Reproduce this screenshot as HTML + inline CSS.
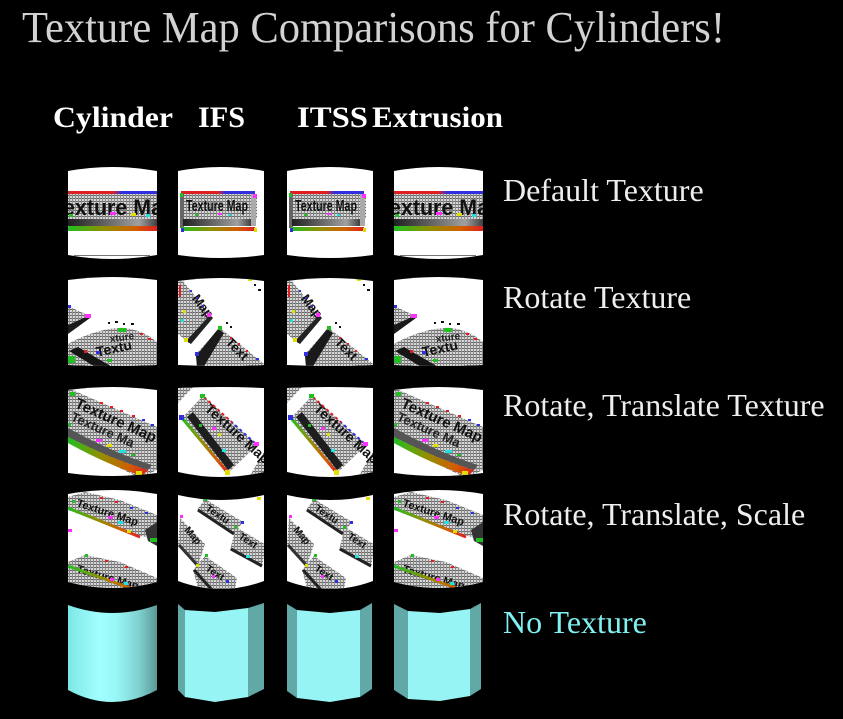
<!DOCTYPE html>
<html><head><meta charset="utf-8"><style>
html,body{margin:0;padding:0;background:#000;}
svg{display:block;}
</style></head><body>
<svg width="843" height="719" viewBox="0 0 843 719" xmlns="http://www.w3.org/2000/svg" xmlns:xlink="http://www.w3.org/1999/xlink">
<defs>
<pattern id="h" width="3" height="3" patternUnits="userSpaceOnUse"><rect width="3" height="3" fill="#d6d6d6"/><rect width="3" height="1" fill="#6a6a6a"/><rect width="1" height="3" fill="#8c8c8c"/></pattern>
<linearGradient id="rb" x1="0" x2="1"><stop offset="0" stop-color="#e02020"/><stop offset=".5" stop-color="#e02020"/><stop offset=".6" stop-color="#3030e0"/><stop offset="1" stop-color="#3030e0"/></linearGradient>
<linearGradient id="gr" x1="0" x2="1"><stop offset="0" stop-color="#20c020"/><stop offset=".4" stop-color="#909000"/><stop offset=".75" stop-color="#d06000"/><stop offset="1" stop-color="#e02020"/></linearGradient>
<linearGradient id="dk" x1="0" x2="1"><stop offset="0" stop-color="#202020"/><stop offset=".5" stop-color="#707070"/><stop offset=".8" stop-color="#a0a0a0"/><stop offset="1" stop-color="#404040"/></linearGradient>
<linearGradient id="cy" x1="0" x2="1"><stop offset="0" stop-color="#7ee6e6"/><stop offset=".35" stop-color="#a2ffff"/><stop offset=".55" stop-color="#98f6f6"/><stop offset=".8" stop-color="#80d0d0"/><stop offset="1" stop-color="#5a9898"/></linearGradient>

<clipPath id="cA1"><path d="M68,171 Q112.5,163 157,171 L157,255 Q112.5,263 68,255 Z"/></clipPath>
<clipPath id="cB1"><path d="M178,171 Q221,163 264,171 L264,255 Q221,261 178,255 Z"/></clipPath>
<clipPath id="cA2"><path d="M68,280 Q112.5,274 157,280 L157,365 Q112.5,367 68,365 Z"/></clipPath>
<clipPath id="cB2"><path d="M178,281 Q221,275 264,281 L264,365 Q221,367 178,365 Z"/></clipPath>
<clipPath id="cA3"><path d="M68,390 Q112.5,384 157,390 L157,473 Q112.5,479 68,473 Z"/></clipPath>
<clipPath id="cB3"><path d="M178,388 Q221,386 264,388 L264,472 Q221,482 178,472 Z"/></clipPath>
<clipPath id="cA4"><path d="M68,494 Q112.5,486 157,494 L157,582 Q112.5,594 68,582 Z"/></clipPath>
<clipPath id="cB4"><path d="M178,495 Q221,505 264,495 L264,581 Q221,597 178,581 Z"/></clipPath>

<!-- Row 1 -->
<g id="gA1" clip-path="url(#cA1)">
<rect x="60" y="160" width="110" height="110" fill="#fff"/>
<rect x="68" y="191" width="89" height="3" fill="url(#rb)"/>
<rect x="68" y="194" width="89" height="25" fill="url(#h)"/>
<text x="63" y="215" font-family="Liberation Sans, sans-serif" font-weight="bold" font-size="22" textLength="100" lengthAdjust="spacingAndGlyphs" fill="#111">exture Ma</text>
<rect x="69" y="214" width="4" height="3" fill="#20c020"/>
<rect x="110" y="212" width="6" height="3" fill="#ff30ff"/>
<rect x="131" y="213" width="5" height="3" fill="#e0e000"/>
<rect x="146" y="214" width="4" height="3" fill="#20e0e0"/>
<rect x="68" y="219" width="89" height="7" fill="url(#dk)"/>
<rect x="68" y="226" width="89" height="5" fill="url(#gr)"/>
<rect x="74" y="255" width="76" height="1" fill="#777"/>
</g>
<g id="gB1" clip-path="url(#cB1)">
<rect x="170" y="160" width="100" height="110" fill="#fff"/>
<rect x="180" y="194" width="77" height="25" fill="url(#h)"/>
<rect x="181" y="191" width="74" height="3" fill="url(#rb)"/>
<rect x="180" y="194" width="4" height="34" fill="#666"/>
<rect x="251" y="194" width="5" height="32" fill="#aaa"/>
<text x="186" y="211" font-family="Liberation Sans, sans-serif" font-weight="bold" font-size="16" textLength="62" lengthAdjust="spacingAndGlyphs" fill="#111">Texture Map</text>
<rect x="183" y="219" width="68" height="7" fill="url(#dk)"/>
<rect x="181" y="227" width="74" height="4" fill="url(#gr)"/>
<rect x="180" y="193" width="3" height="4" fill="#20c020"/>
<rect x="253" y="194" width="4" height="4" fill="#ff30ff"/>
<rect x="181" y="228" width="3" height="4" fill="#3030e0"/>
<rect x="254" y="228" width="3" height="4" fill="#e0e000"/>
<rect x="195" y="214" width="3" height="2" fill="#20c020"/>
<rect x="218" y="213" width="4" height="2" fill="#ff30ff"/>
<rect x="228" y="214" width="3" height="2" fill="#20e0e0"/>
</g>

<!-- Row 2 -->
<g id="gA2" clip-path="url(#cA2)">
<rect x="60" y="270" width="110" height="100" fill="#fff"/>
<path d="M68,306 L90,316 L84,319 L68,330 Z" fill="url(#h)"/>
<path d="M68,325 L86,317 L90,318 L68,334 Z" fill="#1a1a1a"/>
<rect x="85" y="314" width="6" height="4" fill="#ff30ff"/>
<rect x="68" y="305" width="3" height="3" fill="#3030e0"/>
<path d="M68,344 C82,336 105,327 125,328 C140,330 150,336 157,342 L157,368 L68,368 Z" fill="url(#h)"/>
<path d="M69,351 L78,347 L114,368 L97,368 Z" fill="#151515"/>
<text x="96" y="354" font-size="14" font-weight="bold" font-family="Liberation Sans, sans-serif" fill="#111" transform="rotate(-12 110 350)">Textu</text>
<text x="110" y="341" font-size="10" font-weight="bold" font-family="Liberation Sans, sans-serif" fill="#222" transform="rotate(-8 120 340)">xture</text>
<rect x="118" y="328" width="8" height="4" fill="#20c020"/>
<rect x="68" y="356" width="7" height="7" fill="#20c020"/>
<rect x="96" y="351" width="4" height="3" fill="#3030e0"/>
<rect x="107" y="359" width="5" height="3" fill="#20c020"/>
<rect x="84" y="350" width="3" height="3" fill="#e02020"/>
<rect x="140" y="333" width="3" height="2" fill="#e02020"/>
<rect x="148" y="338" width="3" height="2" fill="#e02020"/>
<rect x="108" y="322" width="2" height="2" fill="#111"/>
<rect x="115" y="321" width="3" height="2" fill="#111"/>
<rect x="123" y="323" width="2" height="2" fill="#111"/>
<rect x="131" y="323" width="3" height="2" fill="#111"/>
</g>
<g id="gB2" clip-path="url(#cB2)">
<rect x="170" y="270" width="100" height="100" fill="#fff"/>
<path d="M178,281 L183,281 L210,315 L188,342 L178,334 Z" fill="url(#h)"/>
<path d="M210,315 L213,318 L191,344 L186,341 Z" fill="#222"/>
<text x="186" y="300" font-size="13" font-weight="bold" font-family="Liberation Sans, sans-serif" fill="#111" transform="rotate(52 190 305)">Map</text>
<path d="M220,328 L264,364 L264,368 L198,368 L196,354 Z" fill="url(#h)"/>
<path d="M218,329 L224,333 L203,368 L197,368 L196,356 Z" fill="#1a1a1a"/>
<text x="220" y="345" font-size="13" font-weight="bold" font-family="Liberation Sans, sans-serif" fill="#111" transform="rotate(45 225 350)">Text</text>
<rect x="207" y="313" width="4" height="4" fill="#ff30ff"/>
<rect x="184" y="338" width="4" height="4" fill="#e0e000"/>
<rect x="181" y="319" width="3" height="3" fill="#20e0e0"/>
<rect x="183" y="310" width="3" height="3" fill="#e0e000"/>
<rect x="218" y="326" width="4" height="4" fill="#20c020"/>
<rect x="195" y="352" width="4" height="4" fill="#3030e0"/>
<rect x="248" y="277" width="4" height="4" fill="#e0e000"/>
<rect x="179" y="285" width="2" height="12" fill="#e02020"/>
<rect x="190" y="290" width="2" height="2" fill="#3030e0"/>
<rect x="196" y="297" width="2" height="2" fill="#3030e0"/>
<rect x="202" y="305" width="2" height="2" fill="#3030e0"/>
<rect x="230" y="337" width="2" height="2" fill="#e02020"/>
<rect x="238" y="343" width="2" height="2" fill="#e02020"/>
<rect x="246" y="350" width="2" height="2" fill="#e02020"/>
<rect x="256" y="358" width="3" height="2" fill="#3030e0"/>
<rect x="254" y="284" width="2" height="2" fill="#111"/>
<rect x="258" y="289" width="3" height="2" fill="#111"/>
<rect x="226" y="322" width="2" height="2" fill="#111"/>
<rect x="230" y="326" width="2" height="2" fill="#111"/>
</g>

<!-- Row 3 -->
<g id="gA3" clip-path="url(#cA3)">
<rect x="60" y="380" width="110" height="105" fill="#fff"/>
<path d="M68,388 L157,427 L157,470 L140,478 L68,443 Z" fill="url(#h)"/>
<text x="74" y="407" font-size="15" font-weight="bold" font-family="Liberation Sans, sans-serif" fill="#111" transform="rotate(24 74 407)">Texture Map</text>
<text x="70" y="420" font-size="13" font-weight="bold" font-family="Liberation Sans, sans-serif" fill="#222" transform="rotate(24 70 420)">Texture Ma</text>
<path d="M68,428 C90,440 120,455 152,465 L148,470 C115,460 90,448 68,437 Z" fill="#555"/>
<path d="M68,437 C90,448 115,460 148,470 L142,476 C110,465 88,454 68,443 Z" fill="url(#gr)"/>
<rect x="70" y="392" width="5" height="4" fill="#20c020"/>
<rect x="68" y="423" width="3" height="3" fill="#20c020"/>
<rect x="96" y="439" width="6" height="3" fill="#ff30ff"/>
<rect x="107" y="444" width="5" height="3" fill="#e0e000"/>
<rect x="119" y="450" width="7" height="3" fill="#20e0e0"/>
<rect x="131" y="454" width="4" height="2" fill="#20c020"/>
<rect x="136" y="471" width="6" height="4" fill="#e0e000"/>
<rect x="100" y="402" width="3" height="2" fill="#e02020"/>
<rect x="110" y="406" width="3" height="2" fill="#e02020"/>
<rect x="120" y="410" width="3" height="2" fill="#e02020"/>
<rect x="132" y="415" width="3" height="2" fill="#e02020"/>
<rect x="142" y="419" width="3" height="2" fill="#3030e0"/>
<rect x="151" y="424" width="3" height="2" fill="#3030e0"/>
</g>
<g id="gB3" clip-path="url(#cB3)">
<rect x="170" y="380" width="100" height="105" fill="#fff"/>
<path d="M178,385 L195,385 L178,403 Z" fill="url(#h)"/>
<path d="M264,452 L264,482 L246,482 Z" fill="url(#h)"/>
<path d="M203,396 L257,445 L228,473 L182,418 Z" fill="url(#h)"/>
<text x="204" y="410" font-size="14" font-weight="bold" font-family="Liberation Sans, sans-serif" fill="#111" transform="rotate(42 204 410)">Texture Map</text>
<path d="M187,417 L193,412 L234,465 L228,470 Z" fill="#1e1e1e"/>
<line x1="182" y1="418" x2="228" y2="473" stroke="url(#gr)" stroke-width="3"/>
<line x1="204" y1="397" x2="256" y2="444" stroke="url(#rb)" stroke-width="2" stroke-dasharray="3 3"/>
<rect x="200" y="394" width="5" height="4" fill="#20c020"/>
<rect x="179" y="415" width="5" height="5" fill="#3030e0"/>
<rect x="225" y="470" width="5" height="5" fill="#e0e000"/>
<rect x="254" y="442" width="5" height="4" fill="#ff30ff"/>
<rect x="212" y="427" width="4" height="3" fill="#ff30ff"/>
<rect x="218" y="433" width="3" height="3" fill="#e0e000"/>
<rect x="222" y="449" width="4" height="3" fill="#20e0e0"/>
<rect x="199" y="424" width="3" height="3" fill="#20c020"/>
</g>

<!-- Row 4 -->
<g id="gA4" clip-path="url(#cA4)">
<rect x="60" y="484" width="110" height="115" fill="#fff"/>
<path d="M68,497 L85,492 L120,500 L157,515 L157,528 L150,538 L128,533 L100,522 L68,510 Z" fill="url(#h)"/>
<text x="76" y="506" font-size="11" font-weight="bold" font-family="Liberation Sans, sans-serif" fill="#111" transform="rotate(18 76 506)">Texture Map</text>
<line x1="68" y1="508" x2="140" y2="537" stroke="url(#gr)" stroke-width="3"/>
<path d="M145,530 L157,522 L157,546 L148,541 Z" fill="#333"/>
<rect x="150" y="538" width="7" height="4" fill="#20c020"/>
<path d="M68,562 L85,555 L120,562 L157,578 L157,595 L68,595 Z" fill="url(#h)"/>
<text x="76" y="572" font-size="11" font-weight="bold" font-family="Liberation Sans, sans-serif" fill="#111" transform="rotate(16 76 572)">Texture Map</text>
<line x1="68" y1="566" x2="150" y2="595" stroke="url(#gr)" stroke-width="3"/>
<rect x="68" y="529" width="4" height="3" fill="#ff30ff"/>
<rect x="72" y="500" width="3" height="3" fill="#20c020"/>
<rect x="108" y="516" width="5" height="3" fill="#ff30ff"/>
<rect x="118" y="521" width="5" height="3" fill="#20e0e0"/>
<rect x="127" y="530" width="4" height="3" fill="#e0e000"/>
<rect x="100" y="497" width="3" height="2" fill="#e02020"/>
<rect x="115" y="501" width="3" height="2" fill="#e02020"/>
<rect x="130" y="507" width="3" height="2" fill="#3030e0"/>
<rect x="145" y="512" width="3" height="2" fill="#3030e0"/>
<rect x="85" y="554" width="3" height="3" fill="#20c020"/>
<rect x="105" y="560" width="3" height="2" fill="#e02020"/>
<rect x="125" y="566" width="3" height="2" fill="#e02020"/>
<rect x="110" y="578" width="4" height="3" fill="#ff30ff"/>
<rect x="124" y="582" width="4" height="3" fill="#20e0e0"/>
</g>
<g id="gB4" clip-path="url(#cB4)">
<rect x="170" y="484" width="100" height="115" fill="#fff"/>
<path d="M205,499 L243,522 L234,534 L197,510 Z" fill="url(#h)"/>
<path d="M236,527 L266,545 L262,566 L230,550 Z" fill="url(#h)"/>
<path d="M180,518 L205,544 L198,566 L178,545 Z" fill="url(#h)"/>
<path d="M205,556 L237,578 L234,595 L200,595 L193,570 Z" fill="url(#h)"/>
<line x1="198" y1="510" x2="234" y2="534" stroke="#222" stroke-width="3"/>
<line x1="231" y1="549" x2="262" y2="566" stroke="#222" stroke-width="3"/>
<line x1="179" y1="545" x2="198" y2="566" stroke="#333" stroke-width="3"/>
<line x1="194" y1="570" x2="214" y2="592" stroke="#222" stroke-width="3"/>
<text x="205" y="510" font-size="10" font-weight="bold" font-family="Liberation Sans, sans-serif" fill="#111" transform="rotate(33 205 510)">Textu</text>
<text x="238" y="538" font-size="10" font-weight="bold" font-family="Liberation Sans, sans-serif" fill="#111" transform="rotate(33 238 538)">Text</text>
<text x="184" y="530" font-size="10" font-weight="bold" font-family="Liberation Sans, sans-serif" fill="#111" transform="rotate(50 184 530)">Map</text>
<text x="205" y="570" font-size="10" font-weight="bold" font-family="Liberation Sans, sans-serif" fill="#111" transform="rotate(33 205 570)">Text</text>
<rect x="203" y="498" width="4" height="3" fill="#20c020"/>
<rect x="241" y="521" width="3" height="3" fill="#3030e0"/>
<rect x="234" y="526" width="3" height="3" fill="#20c020"/>
<rect x="180" y="515" width="3" height="3" fill="#ff30ff"/>
<rect x="246" y="555" width="4" height="3" fill="#20e0e0"/>
<rect x="205" y="554" width="3" height="3" fill="#20c020"/>
<rect x="196" y="564" width="3" height="3" fill="#e0e000"/>
<rect x="212" y="575" width="3" height="3" fill="#ff30ff"/>
<rect x="226" y="580" width="3" height="3" fill="#3030e0"/>
<rect x="257" y="497" width="4" height="3" fill="#e0e000"/>
</g>
</defs>

<rect x="0" y="0" width="843" height="719" fill="#000"/>

<text x="22" y="42" font-family="Liberation Serif, serif" font-size="44" fill="#d2d2d2" textLength="703" lengthAdjust="spacingAndGlyphs">Texture Map Comparisons for Cylinders!</text>

<g font-family="Liberation Serif, serif" font-weight="bold" font-size="30" fill="#fff">
<text x="53" y="127" textLength="120" lengthAdjust="spacingAndGlyphs">Cylinder</text>
<text x="198" y="127" textLength="47" lengthAdjust="spacingAndGlyphs">IFS</text>
<text x="297" y="127" textLength="71" lengthAdjust="spacingAndGlyphs">ITSS</text>
<text x="372" y="127" textLength="131" lengthAdjust="spacingAndGlyphs">Extrusion</text>
</g>

<g font-family="Liberation Serif, serif" font-size="32" fill="#eeeeee">
<text x="503" y="201">Default Texture</text>
<text x="503" y="308">Rotate Texture</text>
<text x="503" y="416">Rotate, Translate Texture</text>
<text x="503" y="525">Rotate, Translate, Scale</text>
<text x="503" y="633" fill="#80f0f0">No Texture</text>
</g>

<use xlink:href="#gA1"/><use xlink:href="#gA1" x="326"/>
<use xlink:href="#gB1"/><use xlink:href="#gB1" x="109"/>
<use xlink:href="#gA2"/><use xlink:href="#gA2" x="326"/>
<use xlink:href="#gB2"/><use xlink:href="#gB2" x="109"/>
<use xlink:href="#gA3"/><use xlink:href="#gA3" x="326"/>
<use xlink:href="#gB3"/><use xlink:href="#gB3" x="109"/>
<use xlink:href="#gA4"/><use xlink:href="#gA4" x="326"/>
<use xlink:href="#gB4"/><use xlink:href="#gB4" x="109"/>

<!-- Row 5: untextured -->
<path d="M68,605 Q112.5,621 157,605 L157,690 Q112.5,714 68,690 Z" fill="url(#cy)"/>

<polygon points="178,604 185,610 185,697 178,690" fill="#62a8a6"/>
<polygon points="185,610 215,612 248,608 248,697 215,702 185,697" fill="#96f4f4"/>
<polygon points="248,608 264,603 264,689 248,697" fill="#62a8a6"/>

<polygon points="287,604 297,610 297,698 287,691" fill="#62a8a6"/>
<polygon points="297,610 330,613 360,610 360,697 330,702 297,698" fill="#96f4f4"/>
<polygon points="360,610 372,603 372,689 360,697" fill="#62a8a6"/>

<polygon points="394,604 408,611 408,699 394,690" fill="#62a8a6"/>
<polygon points="408,611 440,613 470,609 470,696 440,701 408,699" fill="#96f4f4"/>
<polygon points="470,609 481,603 481,689 470,696" fill="#62a8a6"/>
</svg>
</body></html>
